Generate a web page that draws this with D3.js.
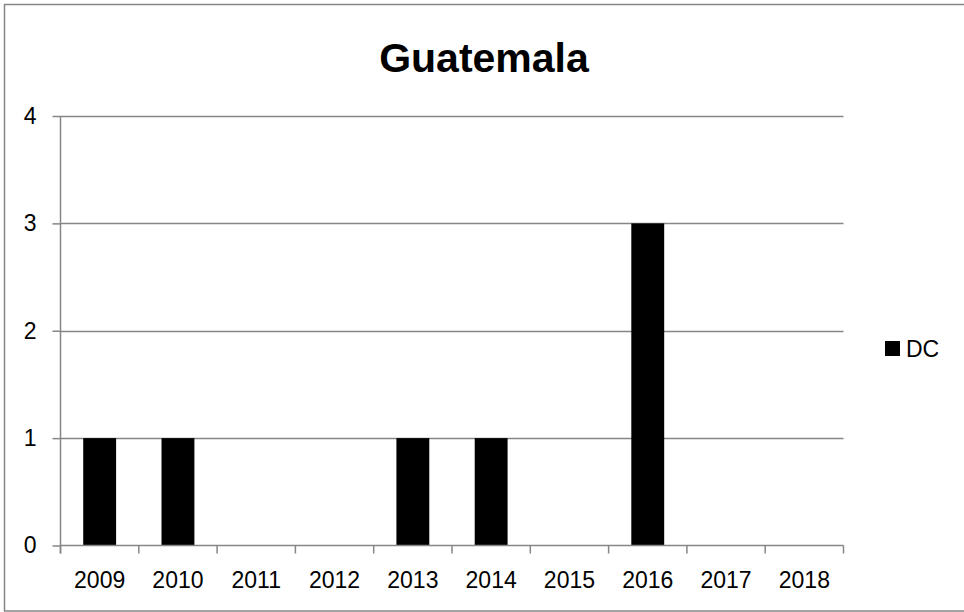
<!DOCTYPE html>
<html><head><meta charset="utf-8">
<script src="https://cdn.jsdelivr.net/npm/d3@7"></script>
<style>body{margin:0;background:#fff}svg{display:block}text{font-family:"Liberation Sans",Arial,sans-serif}</style>
</head><body>
<svg id="c" width="964" height="612"></svg>
<script>
const title = "Guatemala";
const categories = ["2009","2010","2011","2012","2013","2014","2015","2016","2017","2018"];
const seriesName = "DC";
const values = [1,1,0,0,1,1,0,3,0,0];
const yTicks = [0,1,2,3,4];

(function(){
const svg = d3.select("#c");
const gray = "#868686";
svg.append("rect").attr("x",4.5).attr("y",4.5).attr("width",970).attr("height",606.5)
  .attr("fill","#fff").attr("stroke",gray).attr("stroke-width",1.5);

const pLeft = 60.5, pRight = 843.5, pTop = 116, pBottom = 545.5;
const x = d3.scaleBand().domain(categories).range([pLeft,pRight]).paddingInner(0.58).paddingOuter(0.29);
const y = d3.scaleLinear().domain([0,4]).range([pBottom,pTop]);

// gridlines
svg.append("g").selectAll("line").data(yTicks.filter(d=>d>0)).join("line")
  .attr("x1",pLeft).attr("x2",pRight).attr("y1",d=>Math.round(y(d))+0.5).attr("y2",d=>Math.round(y(d))+0.5)
  .attr("stroke",gray).attr("stroke-width",1.5);

// bars
svg.append("g").selectAll("rect").data(values).join("rect")
  .attr("x",(d,i)=>x(categories[i])).attr("width",x.bandwidth())
  .attr("y",d=>y(d)).attr("height",d=>y(0)-y(d)).attr("fill","#000");

// y axis
const yAxis = d3.axisLeft(y).tickValues(yTicks).tickSize(8).tickPadding(16).tickFormat(d3.format("d"));
const gy = svg.append("g").attr("transform",`translate(${pLeft},0)`).call(yAxis);
gy.select(".domain").remove();
gy.selectAll(".tick line").attr("stroke",gray).attr("stroke-width",1.5);
gy.selectAll("text").attr("font-size",23).attr("fill","#000");
svg.append("line").attr("x1",pLeft).attr("x2",pLeft).attr("y1",pTop).attr("y2",pBottom+8)
  .attr("stroke",gray).attr("stroke-width",1.5);

// x axis
const gx = svg.append("g").attr("transform",`translate(0,${pBottom})`)
  .call(d3.axisBottom(x).tickSize(0).tickPadding(26));
gx.select(".domain").remove();
gx.selectAll("text").attr("font-size",23).attr("fill","#000");
svg.append("line").attr("x1",pLeft).attr("x2",pRight).attr("y1",pBottom).attr("y2",pBottom)
  .attr("stroke",gray).attr("stroke-width",1.5);
const bounds = categories.map(c=>x(c)-x.step()*x.paddingInner()/2).concat([pRight]);
svg.append("g").selectAll("line").data(bounds).join("line")
  .attr("x1",d=>d).attr("x2",d=>d).attr("y1",pBottom).attr("y2",pBottom+8)
  .attr("stroke",gray).attr("stroke-width",1.5);

// title
svg.append("text").attr("x",484).attr("y",72).attr("text-anchor","middle")
  .attr("font-size",41).attr("font-weight","bold").attr("fill","#000").text(title);

// legend
svg.append("rect").attr("x",885).attr("y",341).attr("width",15).attr("height",15).attr("fill","#000");
svg.append("text").attr("x",906).attr("y",357).attr("font-size",23).attr("fill","#000").text(seriesName);
})();
</script>
</body></html>
